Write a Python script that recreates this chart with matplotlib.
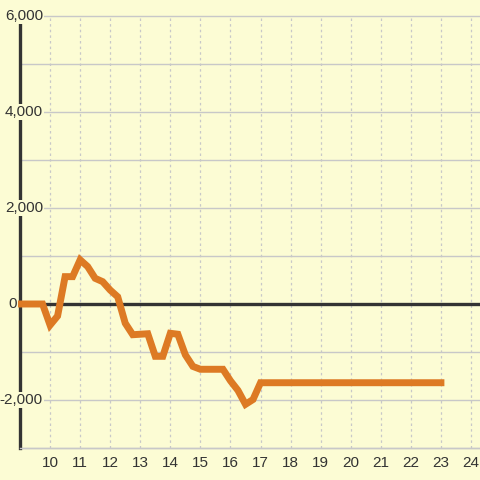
import matplotlib
matplotlib.use('Agg')
import matplotlib.pyplot as plt
import matplotlib.transforms as mtransforms

# hour of day vs. cumulative value
hours = [9.0, 9.25, 9.5, 9.75, 10.0, 10.25, 10.5, 10.75, 11.0, 11.25, 11.5, 11.75,
         12.0, 12.25, 12.5, 12.75, 13.0, 13.25, 13.5, 13.75, 14.0, 14.25, 14.5, 14.75,
         15.0, 15.25, 15.5, 15.75, 16.0, 16.25, 16.5, 16.75, 17.0, 23.0]
values = [0, 0, 0, 0, -440, -250, 570, 570, 920, 780, 535, 465,
          290, 150, -400, -640, -630, -620, -1090, -1090, -610, -630, -1060, -1300,
          -1360, -1360, -1360, -1360, -1600, -1800, -2090, -1990, -1640, -1640]

x_ticks = list(range(10, 25))
y_ticks = [-2000, 0, 2000, 4000, 6000]
y_minor = [-3000, -1000, 1000, 3000, 5000]

bg = '#fcfcd4'
ink = '#333333'
grid_c = '#c8c8c8'
fam = ['Liberation Sans', 'DejaVu Sans']

fig = plt.figure(figsize=(4.8, 4.8), dpi=100)
fig.patch.set_facecolor(bg)
ax = fig.add_axes([20 / 480, 32 / 480, 460 / 480, 432 / 480])
ax.set_facecolor(bg)
ax.set_xlim(9, 24.3)
ax.set_ylim(-3000, 6000)

# grid
for t in y_ticks + y_minor:
    ax.axhline(t, color=grid_c, lw=1, zorder=1, clip_on=False)
for t in x_ticks:
    ax.axvline(t, color=grid_c, lw=0.9, ls=(0, (2, 2.5)), zorder=1)

ax.axhline(0, color=ink, lw=2.4, zorder=2)
ax.plot(hours, values, color='#dd7a24', lw=5, zorder=4, clip_on=False,
        solid_joinstyle='miter', solid_capstyle='projecting')

for s in ['top', 'right']:
    ax.spines[s].set_visible(False)
ax.spines['left'].set_color(ink)
ax.spines['left'].set_linewidth(2.4)
ax.spines['left'].set_zorder(2.5)
ax.spines['bottom'].set_color(grid_c)
ax.spines['bottom'].set_linewidth(1)

ax.set_xticks(x_ticks)
ax.set_xticklabels([str(t) for t in x_ticks])
ax.tick_params(axis='x', length=0, pad=6, labelsize=11, labelcolor=ink)
ax.set_yticks([])
for lbl in ax.get_xticklabels():
    lbl.set_fontfamily(fam)

trans = mtransforms.blended_transform_factory(ax.transAxes, ax.transData)
for t in y_ticks:
    # the zero label sits left of the axis line, the others straddle it
    xpos = -0.007 if t == 0 else 0.05
    ax.text(xpos, t, '{:,}'.format(t), transform=trans, ha='right', va='center',
            fontsize=11, color=ink, zorder=5, clip_on=False, family=fam,
            bbox=dict(facecolor=bg, edgecolor='none', pad=1.0))

fig.savefig('out.png', dpi=100, facecolor=bg)
